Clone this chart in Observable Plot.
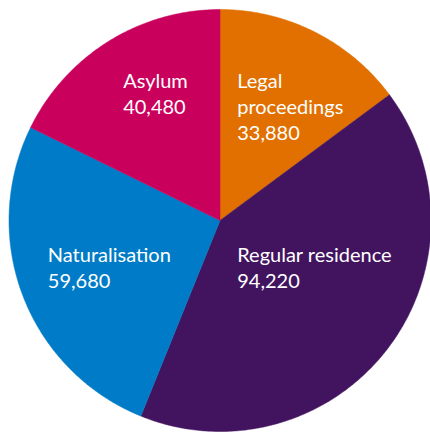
<!DOCTYPE html>
<html><head><meta charset="utf-8">
<script src="https://cdn.jsdelivr.net/npm/d3@7"></script>
<script src="https://cdn.jsdelivr.net/npm/@observablehq/plot@0.6"></script>
<style>body{margin:0;background:#fff}</style>
</head><body><div id="chart"></div>
<script>
// Data
const categories = ["Legal proceedings", "Regular residence", "Naturalisation", "Asylum"];
const labelTexts = ["Legal\nproceedings", "Regular residence", "Naturalisation", "Asylum"];
const values = [33880, 94220, 59680, 40480];
const colors = ["#E17000", "#42145F", "#007BC7", "#CA005D"];
// Layout: label anchor (top-left) in unit-circle coordinates
const labelAnchors = [[0.0815, 0.714], [0.0815, -0.111], [-0.816, -0.111], [-0.459, 0.714]];

const fmt = d3.format(",");
const arcs = d3.pie().sort(null)(values);
const slicePoints = arcs.flatMap((a, i) => {
  const cat = categories[i];
  const n = Math.max(2, Math.ceil((a.endAngle - a.startAngle) / 0.01));
  const pts = [{cat, x: 0, y: 0}];
  for (let k = 0; k <= n; ++k) {
    const t = a.startAngle + (a.endAngle - a.startAngle) * k / n;
    pts.push({cat, x: Math.sin(t), y: Math.cos(t)});
  }
  pts.push({cat, x: 0, y: 0});
  return pts;
});
const labelData = categories.map((c, i) => ({
  cat: c, x: labelAnchors[i][0], y: labelAnchors[i][1],
  text: labelTexts[i] + "\n" + fmt(values[i])
}));

const chart = Plot.plot({
  width: 430, height: 432, margin: 0,
  x: {domain: [-1, 1], range: [8.5, 430.5], axis: null},
  y: {domain: [-1, 1], range: [431, 9], axis: null},
  color: {domain: categories, range: colors},
  style: {fontFamily: "Lato", background: "#fff"},
  marks: [
    Plot.line(slicePoints, {x: "x", y: "y", z: "cat", fill: "cat", stroke: "cat", strokeWidth: 0.5, curve: "linear"}),
    Plot.text(labelData, {x: "x", y: "y", text: "text", textAnchor: "start", lineAnchor: "top",
      fill: "white", fontSize: 20, lineHeight: 1.3, fontFamily: "Lato"})
  ]
});
document.getElementById("chart").appendChild(chart);
</script>
</body></html>
